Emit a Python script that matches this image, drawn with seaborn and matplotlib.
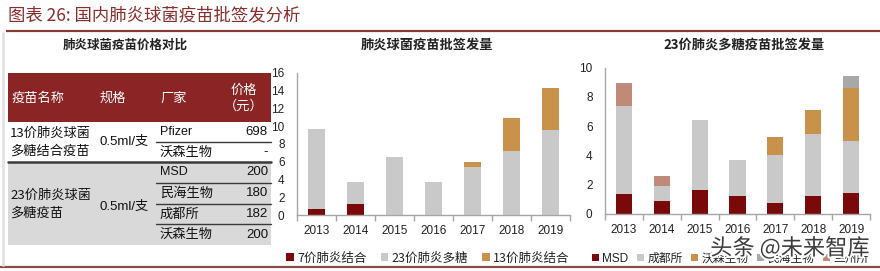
import numpy as np
import pandas as pd
import matplotlib
matplotlib.use("Agg")
import matplotlib.pyplot as plt
import matplotlib.patheffects as pe
from matplotlib.patches import Rectangle, Patch
import seaborn as sns

sns.set_theme(style="white")
CJK = ['Noto Sans CJK SC', 'DejaVu Sans']
NUM = ['Liberation Sans', 'Noto Sans CJK SC']
plt.rcParams['font.family'] = CJK

# ---------------- data ----------------
main_title = "图表 26: 国内肺炎球菌疫苗批签发分析"

table_title = "肺炎球菌疫苗价格对比"
table_header = ["疫苗名称", "规格", "厂家", "价格\n（元）"]
vaccine_names = ["13价肺炎球菌\n多糖结合疫苗", "23价肺炎球菌\n多糖疫苗"]
specs = ["0.5ml/支", "0.5ml/支"]
makers = [["Pfizer", "沃森生物"], ["MSD", "民海生物", "成都所", "沃森生物"]]
prices = [["698", "-"], ["200", "180", "182", "200"]]

years = ["2013", "2014", "2015", "2016", "2017", "2018", "2019"]

c2_title = "肺炎球菌疫苗批签发量"
c2_series = ["7价肺炎结合", "23价肺炎多糖", "13价肺炎结合"]
v7 = [0.67, 1.24, 0, 0, 0, 0, 0]
v23 = [8.99, 2.45, 6.52, 3.67, 5.39, 7.15, 9.59]
v13 = [0, 0, 0, 0, 0.60, 3.79, 4.64]

c3_title = "23价肺炎多糖疫苗批签发量"
c3_series = ["MSD", "成都所", "沃森生物", "民海生物", "兰州所"]
msd = [1.37, 0.87, 1.66, 1.21, 0.73, 1.21, 1.41]
chengdu = [5.99, 1.04, 4.79, 2.46, 3.32, 4.23, 3.58]
walvax = [0, 0, 0, 0, 1.23, 1.64, 3.60]
minhai = [0, 0, 0, 0, 0, 0, 0.86]
lanzhou = [1.61, 0.69, 0, 0, 0, 0, 0]

# ---------------- style ----------------
RED_T = "#8B2C2C"
HEAD = "#8B2424"
DARKRED = "#7A0A0A"
LGRAY = "#C9C9C9"
GOLD = "#C8924B"
MGRAY = "#A8A8A8"
PINK = "#C08A7B"
AXC = "#A6A6A6"

W, H = 880, 271
fig = plt.figure(figsize=(W / 100, H / 100), dpi=100)
fig.patch.set_facecolor("white")

# overlay axes in pixel coords for title, rules and table
bg = fig.add_axes([0, 0, 1, 1], zorder=0)
bg.set_xlim(0, W)
bg.set_ylim(H, 0)
bg.axis("off")

bg.text(8, 15, main_title, fontsize=12.5, color=RED_T, va="center", ha="left",
        family=CJK, style="italic")
bg.plot([6, W], [31, 31], color="#8B3A3A", lw=1.6, solid_capstyle="butt")
bg.plot([0, W], [267, 267], color="#8B4A4A", lw=1.6, solid_capstyle="butt")
bg.plot([3, 3], [33, 265], color="#E2E2E2", lw=2)

# table
bg.text(125, 45, table_title, fontsize=9, fontweight="bold", ha="center",
        va="center", color="#222222")
x0, x1 = 8, 271
bg.add_patch(Rectangle((x0, 73), x1 - x0, 49, color=HEAD, lw=0))
hx = [12, 100, 160, 264]
bg.text(hx[0], 98, table_header[0], color="white", fontsize=9.5, va="center")
bg.text(hx[1], 98, table_header[1], color="white", fontsize=9.5, va="center")
bg.text(hx[2], 98, table_header[2], color="white", fontsize=9.5, va="center")
bg.text(hx[3], 98, table_header[3], color="white", fontsize=9.5, va="center",
        ha="right", multialignment="center", linespacing=1.3)

g1_top, g1_bot = 122, 162
g2_top, g2_bot = 162, 245
bg.add_patch(Rectangle((x0, g2_top), x1 - x0, g2_bot - g2_top, color="#D9D9D9", lw=0))

def group(top, bot, name, spec, mk, pr, name_dy, spec_dy):
    n = len(mk)
    h = (bot - top) / n
    bg.text(10, (top + bot) / 2 + name_dy, name, fontsize=9.5,
            va="center", ha="left", linespacing=1.45, color="#111111")
    bg.text(100, (top + bot) / 2 + spec_dy, spec, fontsize=9.5,
            va="center", ha="left", family=NUM, color="#111111")
    for i in range(n):
        yc = top + h * (i + 0.5)
        fam = NUM if mk[i].isascii() else CJK
        bg.text(160, yc, mk[i], fontsize=9 if mk[i].isascii() else 9.5,
                va="center", ha="left", family=fam, color="#111111")
        bg.text(268, yc, pr[i], fontsize=9.5, va="center", ha="right",
                family=NUM, color="#111111")
        if i < n - 1:
            yl = top + h * (i + 1)
            bg.plot([156, x1], [yl, yl], color="#3A3A3A", lw=1.0)

group(g1_top, g1_bot, vaccine_names[0], specs[0], makers[0], prices[0], 0, 0)
group(g2_top, g2_bot, vaccine_names[1], specs[1], makers[1], prices[1], 1, 3)
bg.plot([x0, x1], [g1_bot, g1_bot], color="#3A3A3A", lw=1.8)

# ---------------- charts ----------------
def stacked(ax, layers, colors, ymax, step, width):
    cum = np.zeros(len(years))
    cums = []
    for vals in layers:
        cum = cum + np.array(vals)
        cums.append(cum.copy())
    for c, col in zip(reversed(cums), reversed(colors)):
        df = pd.DataFrame({"year": years, "v": c})
        sns.barplot(data=df, x="year", y="v", color=col, width=width,
                    saturation=1, ax=ax, edgecolor="none", linewidth=0)
    ax.set_xlim(-0.5, 6.5)
    ax.set_ylim(0, ymax)
    ax.set_yticks(np.arange(0, ymax + 0.1, step))
    ax.set_xlabel("")
    ax.set_ylabel("")
    ax.set_facecolor("none")
    for s in ["top", "right"]:
        ax.spines[s].set_visible(False)
    for s in ["left", "bottom"]:
        ax.spines[s].set_color(AXC)
        ax.spines[s].set_linewidth(1.0)
    ax.set_xticks(np.arange(-0.5, 7, 1), minor=True)
    ax.tick_params(axis="x", which="major", length=0, pad=7)
    ax.tick_params(axis="x", which="minor", length=4, color=AXC, width=1,
                   direction="out", bottom=True)
    ax.tick_params(axis="y", length=0, pad=9)
    for lab in ax.get_xticklabels() + ax.get_yticklabels():
        lab.set_fontfamily(NUM)
        lab.set_fontsize(8.5)
        lab.set_color("#222222")

ax2 = fig.add_axes([297 / W, 1 - 215 / H, (570 - 297) / W, (215 - 72.7) / H], zorder=2)
stacked(ax2, [v7, v23, v13], [DARKRED, LGRAY, GOLD], 16, 2, 0.42)
fig.text(427 / W, 1 - 45 / H, c2_title, fontsize=9.5, fontweight="bold",
         ha="center", va="center", color="#222222")

ax3 = fig.add_axes([605 / W, 1 - 214 / H, (870 - 605) / W, (214 - 67.7) / H], zorder=2)
stacked(ax3, [msd, chengdu, walvax, minhai, lanzhou],
        [DARKRED, LGRAY, GOLD, MGRAY, PINK], 10, 2, 0.43)
fig.text(744 / W, 1 - 45 / H, c3_title, fontsize=9.5, fontweight="bold",
         ha="center", va="center", color="#222222")

def leg(labels, colors, cx, spacing, fs):
    handles = [Patch(facecolor=c, edgecolor="none", label=l) for l, c in zip(labels, colors)]
    lg = fig.legend(handles=handles, loc="center", ncol=len(labels),
                    bbox_to_anchor=(cx / W, 1 - 258 / H), frameon=False,
                    fontsize=fs, handlelength=0.6, handleheight=0.6,
                    handletextpad=0.3, columnspacing=spacing, borderpad=0)
    for t in lg.get_texts():
        t.set_color("#222222")
        t.set_fontfamily(NUM if t.get_text().isascii() else CJK)
    return lg

leg(c2_series, [DARKRED, LGRAY, GOLD], 428, 1.1, 9)
leg(c3_series, [DARKRED, LGRAY, GOLD, MGRAY, PINK], 730, 0.7, 8.5)

fig.text(790 / W, 1 - 248 / H, "头条 @未来智库", fontsize=16, color="#3C3C3C",
         ha="center", va="center", zorder=10,
         path_effects=[pe.withStroke(linewidth=3, foreground="white")])

fig.savefig("out.png", dpi=100, facecolor="white")
